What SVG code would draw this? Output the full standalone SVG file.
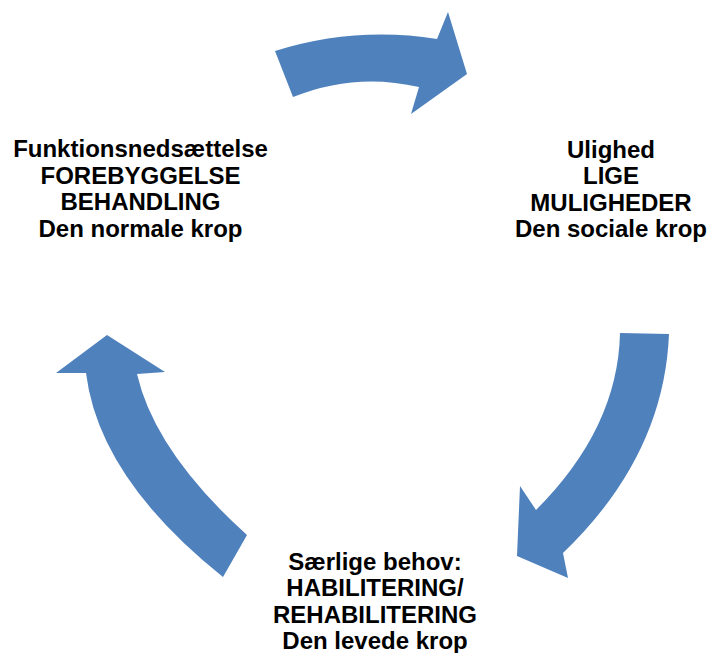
<svg xmlns="http://www.w3.org/2000/svg" width="710" height="653" viewBox="0 0 710 653">
<style>
.arrow{fill:#4F81BD;stroke:none}
.lbl{font-family:"Liberation Sans",Arial,sans-serif;font-weight:bold;font-size:24px;fill:#000;text-anchor:middle}
</style>
<rect width="710" height="653" fill="#fff"/>
<g id="connectors">
<path class="arrow" d="M275,51 Q355,26 437,39 L448,12 L467,74 L411,114 L419,87 Q355,72 293,97 Z"/>
<path class="arrow" d="M620,333 L669,334 Q664,456 563,553 L568,578 L517,556 L520,486 L536,510 Q618,428 620,333 Z"/>
<path class="arrow" d="M107,335 L165,372 L137,374 Q155,452 247,535 L223,577 Q99,478 86,373 L56,373 Z"/>
</g>
<g id="node-left">
<text class="lbl" x="140.5" y="157">Funktionsnedsættelse</text>
<text class="lbl" x="140.5" y="183.5">FOREBYGGELSE</text>
<text class="lbl" x="140.5" y="210">BEHANDLING</text>
<text class="lbl" x="140.5" y="236.5">Den normale krop</text>
</g>
<g id="node-right">
<text class="lbl" x="611" y="157.5">Ulighed</text>
<text class="lbl" x="611" y="184">LIGE</text>
<text class="lbl" x="611" y="210.5">MULIGHEDER</text>
<text class="lbl" x="611" y="237">Den sociale krop</text>
</g>
<g id="node-bottom">
<text class="lbl" x="375" y="569.5">Særlige behov:</text>
<text class="lbl" x="375" y="596">HABILITERING/</text>
<text class="lbl" x="375" y="622.5">REHABILITERING</text>
<text class="lbl" x="375" y="649">Den levede krop</text>
</g>
</svg>
